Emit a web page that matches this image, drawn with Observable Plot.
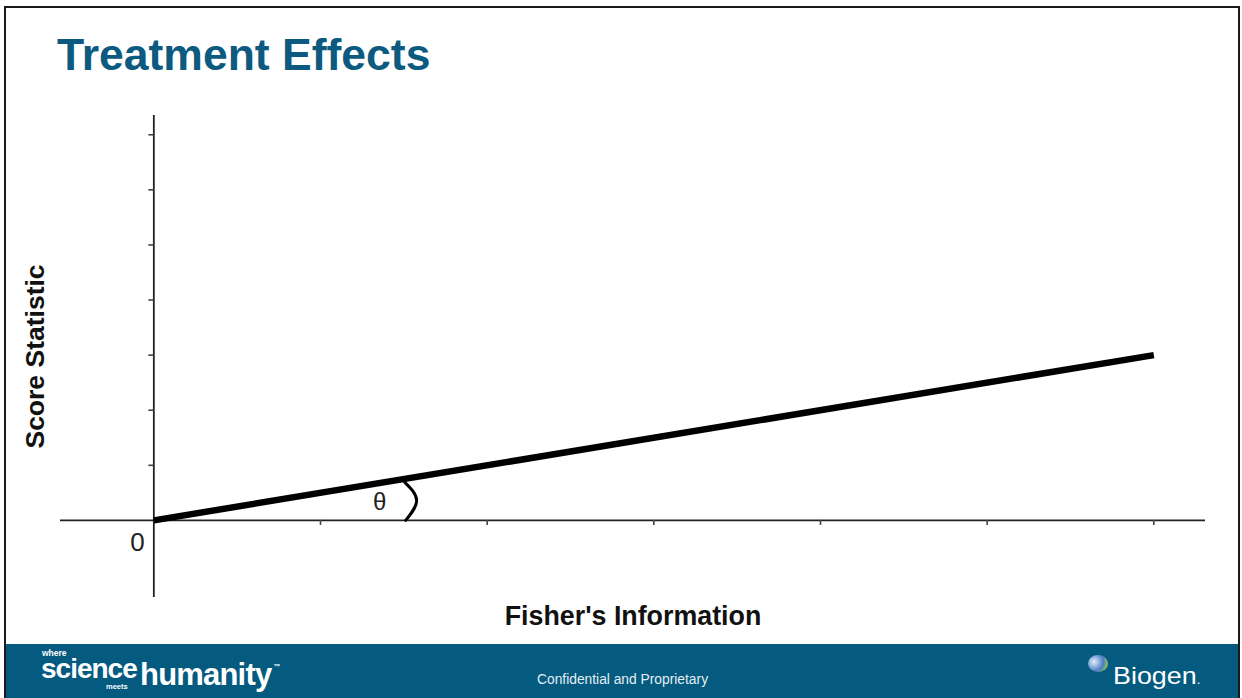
<!DOCTYPE html>
<html>
<head>
<meta charset="utf-8">
<script src="https://cdn.jsdelivr.net/npm/d3@7"></script>
<script src="https://cdn.jsdelivr.net/npm/@observablehq/plot@0.6"></script>
<style>
  html, body { margin: 0; padding: 0; background: #fff; }
  body { width: 1242px; height: 698px; position: relative; overflow: hidden; font-family: "Liberation Sans", Arial, sans-serif; }
  #frame { position: absolute; left: 4px; top: 6px; width: 1232px; height: 700px; border: 2px solid #1a1a1a; border-bottom: none; }
  #title { position: absolute; left: 57px; top: 33px; font-size: 44.5px; line-height: 44px; font-weight: bold; color: #0c5a80; white-space: nowrap; }
  #chart { position: absolute; left: 0; top: 100px; }
  #footer { position: absolute; left: 6px; top: 644px; width: 1232px; height: 54px; background: #045a7f; color: #fff; }
  .ft { position: absolute; white-space: nowrap; line-height: 1; }
  #biogenIcon { position: absolute; left: 1082px; top: 11px; width: 20px; height: 17px; border-radius: 50%;
    background: radial-gradient(circle at 30% 40%, #e3ecf7 0%, #8fb0dc 30%, #4a7cc4 55%, #9ac94a 82%, #e8d84a 100%); }
</style>
</head>
<body>
<div id="frame"></div>
<div id="title">Treatment Effects</div>
<div id="chart"></div>
<div id="footer">
  <div class="ft" style="left:36px; top:5px; font-size:8.5px; font-weight:bold;">where</div>
  <div class="ft" style="left:35px; top:11px; font-size:28px; font-weight:bold; letter-spacing:-1px;">science</div>
  <div class="ft" style="left:100px; top:39px; font-size:7.5px; font-weight:bold;">meets</div>
  <div class="ft" style="left:134px; top:15px; font-size:31px; font-weight:bold; letter-spacing:-0.8px;">humanity<span style="font-size:7px; vertical-align:top; position:relative; top:4px; margin-left:2px;">™</span></div>
  <div class="ft" style="left:531px; top:29px; font-size:13.8px; color:#e6eef3;">Confidential and Proprietary</div>
  <div id="biogenIcon"></div>
  <div class="ft" style="left:1107px; top:20px; font-size:24px; transform:scaleX(1.12); transform-origin:left center;">Biogen<span style="font-size:12px;">.</span></div>
</div>
<script>
// Axis tick positions (no labels except origin)
const xTicks = [0, 1, 2, 3, 4, 5, 6];
const yTicks = [0, 1, 2, 3, 4, 5, 6, 7];

// Treatment effect line: score statistic vs Fisher's information
const infoValues = [0, 6];
const scoreValues = [0, 3];

// Angle arc (theta) annotation points
const arcInfo = [1.511, 1.577, 1.506];
const arcScore = [0, 0.363, 0.69];

// Labels
const thetaLabel = [{info: 1.355, score: 0.327, text: "θ"}];
const originLabel = [{info: 0, score: 0, text: "0"}];
const xTitle = "Fisher's Information";
const yTitle = "Score Statistic";

const effectLine = infoValues.map((v, i) => ({info: v, score: scoreValues[i]}));
const arcPoints = arcInfo.map((v, i) => ({info: v, score: arcScore[i]}));

const font = "Liberation Sans, Arial, sans-serif";

const chart = Plot.plot({
  width: 1242,
  height: 540,
  marginLeft: 60,
  marginRight: 37,
  marginTop: 15,
  marginBottom: 43,
  style: {background: "transparent", overflow: "visible", fontFamily: font},
  x: {domain: [-0.56, 6.31], axis: null},
  y: {domain: [-1.40, 7.35], axis: null},
  marks: [
    Plot.ruleY([0], {stroke: "#222", strokeWidth: 1.8}),
    Plot.ruleX([0], {stroke: "#222", strokeWidth: 1.8}),
    Plot.ruleX(xTicks.filter(d => d !== 0), {x: d => d, y1: 0, y2: 0, insetTop: 0, insetBottom: -5, stroke: "#444", strokeWidth: 1.6}),
    Plot.ruleY(yTicks.filter(d => d !== 0), {y: d => d, x1: 0, x2: 0, insetLeft: -5, insetRight: 0, stroke: "#444", strokeWidth: 1.6}),
    Plot.line(effectLine, {x: "info", y: "score", stroke: "#000", strokeWidth: 6.5, strokeLinecap: "butt"}),
    Plot.line(arcPoints, {x: "info", y: "score", stroke: "#000", strokeWidth: 3, curve: "natural"}),
    Plot.text(thetaLabel, {x: "info", y: "score", text: "text", fontSize: 24, fill: "#222", fontFamily: font}),
    Plot.text(originLabel, {x: "info", y: "score", text: "text", fontSize: 26, fill: "#222", textAnchor: "end", dx: -9, dy: 22, fontFamily: font}),
    Plot.text([xTitle], {text: d => d, frameAnchor: "bottom", textAnchor: "middle", lineAnchor: "middle", dy: 19, fontSize: 26.8, fontWeight: "bold", fill: "#111", fontFamily: font}),
    Plot.text([yTitle], {text: d => d, frameAnchor: "left", textAnchor: "middle", lineAnchor: "middle", rotate: -90, dx: -25, fontSize: 26.5, fontWeight: "bold", fill: "#111", fontFamily: font})
  ]
});
document.getElementById("chart").appendChild(chart);
</script>
</body>
</html>
